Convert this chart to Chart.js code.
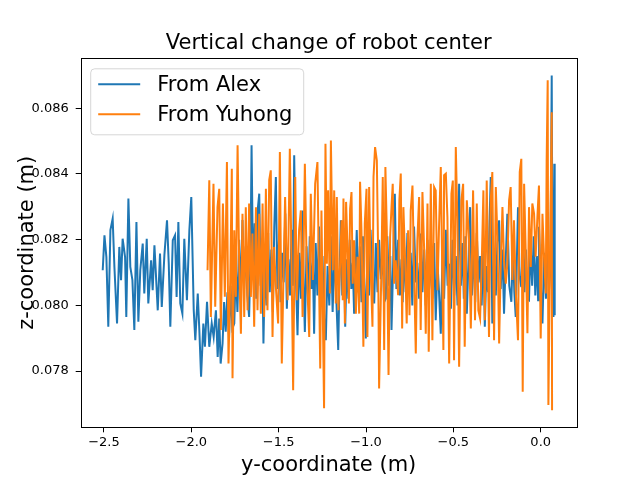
<!DOCTYPE html>
<html>
<head>
<meta charset="utf-8">
<script src="https://cdn.jsdelivr.net/npm/chart.js@4.4.1/dist/chart.umd.min.js"></script>
<style>
  body { margin: 0; background: #fff; }
  #wrap { width: 640px; height: 480px; }
</style>
</head>
<body>
<div id="wrap"><canvas id="robotChart" width="640" height="480"></canvas></div>
<script>
// Chart title and series labels
const chartTitle = 'Vertical change of robot center';
const seriesLabels = ['From Alex', 'From Yuhong'];

// Tick values
const xTickValues = [-2.5, -2.0, -1.5, -1.0, -0.5, 0.0];
const yTickValues = [0.078, 0.080, 0.082, 0.084, 0.086];

// [y-coordinate, z-coordinate] in metres
const alexPoints = [
  [-2.507,0.08107],[-2.497,0.08213],[-2.486,0.08147],[-2.475,0.07935],[-2.463,0.08229],[-2.450,0.08264],[-2.440,0.08117],[-2.425,0.07945],
  [-2.412,0.08178],[-2.402,0.08077],[-2.393,0.08203],[-2.379,0.08147],[-2.372,0.07965],[-2.360,0.08325],[-2.349,0.08117],[-2.337,0.08077],
  [-2.326,0.07925],[-2.314,0.08254],[-2.303,0.07950],[-2.292,0.08107],[-2.278,0.08188],[-2.269,0.08036],[-2.255,0.08203],[-2.246,0.08006],
  [-2.230,0.08137],[-2.221,0.08046],[-2.211,0.08183],[-2.192,0.07985],[-2.179,0.08158],[-2.169,0.07995],[-2.154,0.08153],[-2.139,0.08259],
  [-2.129,0.08127],[-2.120,0.07935],[-2.106,0.08198],[-2.093,0.08213],[-2.084,0.08026],[-2.074,0.08254],[-2.063,0.08006],[-2.051,0.07975],
  [-2.040,0.08203],[-2.025,0.08016],[-2.011,0.08229],[-2.000,0.08330],[-1.986,0.07985],[-1.977,0.07894],[-1.963,0.08036],[-1.954,0.07925],
  [-1.944,0.07783],[-1.931,0.07945],[-1.922,0.07874],[-1.910,0.08011],[-1.897,0.07874],[-1.883,0.07945],[-1.872,0.07904],[-1.859,0.07985],
  [-1.849,0.07843],[-1.840,0.07960],[-1.832,0.07823],[-1.821,0.07884],[-1.812,0.08010],[-1.803,0.07920],[-1.793,0.08040],[-1.784,0.07900],
  [-1.775,0.08060],[-1.765,0.07930],[-1.754,0.07945],[-1.745,0.08120],[-1.736,0.07980],[-1.726,0.08200],[-1.717,0.08020],[-1.707,0.08260],
  [-1.698,0.08050],[-1.688,0.08180],[-1.679,0.08030],[-1.669,0.07965],[-1.661,0.08150],[-1.655,0.08487],[-1.646,0.08080],[-1.637,0.08250],
  [-1.628,0.08020],[-1.620,0.08290],[-1.611,0.08340],[-1.603,0.08060],[-1.595,0.08190],[-1.587,0.07884],[-1.578,0.08140],[-1.569,0.08000],
  [-1.560,0.08220],[-1.551,0.08040],[-1.542,0.08170],[-1.533,0.07980],[-1.525,0.08240],[-1.516,0.08391],[-1.507,0.08050],[-1.498,0.08200],
  [-1.489,0.08010],[-1.480,0.08160],[-1.471,0.08070],[-1.462,0.08280],[-1.453,0.07990],[-1.444,0.08140],[-1.435,0.08030],[-1.426,0.08230],
  [-1.418,0.08060],[-1.411,0.08457],[-1.401,0.08080],[-1.392,0.07909],[-1.382,0.08160],[-1.372,0.08020],[-1.363,0.08289],[-1.356,0.08040],
  [-1.350,0.07919],[-1.340,0.08180],[-1.331,0.08010],[-1.322,0.08210],[-1.313,0.08050],[-1.304,0.08130],[-1.297,0.07914],[-1.288,0.08190],
  [-1.278,0.08030],[-1.269,0.08240],[-1.259,0.08000],[-1.249,0.08150],[-1.239,0.07960],[-1.230,0.07894],[-1.220,0.08120],[-1.210,0.08000],
  [-1.201,0.08210],[-1.191,0.07980],[-1.181,0.08160],[-1.170,0.08020],[-1.159,0.07864],[-1.151,0.08100],[-1.144,0.08259],[-1.136,0.08030],
  [-1.127,0.08170],[-1.119,0.07935],[-1.110,0.08140],[-1.101,0.08020],[-1.093,0.08200],[-1.084,0.08050],[-1.076,0.08130],[-1.068,0.07975],
  [-1.060,0.08100],[-1.053,0.08229],[-1.044,0.08040],[-1.035,0.08180],[-1.026,0.08010],[-1.018,0.08210],[-1.009,0.08060],[-1.001,0.07899],
  [-0.992,0.08150],[-0.983,0.08030],[-0.974,0.08230],[-0.963,0.08070],[-0.953,0.08006],[-0.944,0.08190],[-0.934,0.08040],[-0.925,0.08200],
  [-0.915,0.08080],[-0.905,0.08160],[-0.896,0.08010],[-0.887,0.08021],[-0.878,0.08210],[-0.869,0.08060],[-0.861,0.08150],[-0.854,0.07925],
  [-0.845,0.08120],[-0.835,0.08340],[-0.826,0.08050],[-0.816,0.08200],[-0.806,0.08030],[-0.797,0.08140],[-0.790,0.08010],[-0.782,0.08178],
  [-0.773,0.08040],[-0.763,0.08220],[-0.754,0.08060],[-0.744,0.08160],[-0.735,0.08000],[-0.725,0.08240],[-0.715,0.08070],[-0.706,0.08130],
  [-0.696,0.08020],[-0.686,0.08219],[-0.677,0.08040],[-0.667,0.08170],[-0.658,0.08000],[-0.648,0.08200],[-0.639,0.08050],[-0.629,0.08140],
  [-0.620,0.08020],[-0.610,0.08190],[-0.601,0.07955],[-0.591,0.08130],[-0.582,0.08040],[-0.572,0.07914],[-0.562,0.08160],[-0.553,0.08020],
  [-0.543,0.08230],[-0.533,0.08060],[-0.524,0.08127],[-0.514,0.07990],[-0.505,0.08200],[-0.495,0.08030],[-0.486,0.08150],[-0.476,0.08000],
  [-0.467,0.08370],[-0.457,0.08060],[-0.448,0.08190],[-0.440,0.08020],[-0.431,0.08210],[-0.423,0.07975],[-0.413,0.08140],[-0.404,0.08299],
  [-0.394,0.08030],[-0.385,0.08180],[-0.375,0.08010],[-0.366,0.08220],[-0.356,0.08070],[-0.347,0.08150],[-0.338,0.08000],[-0.328,0.08190],
  [-0.320,0.07935],[-0.311,0.08120],[-0.302,0.08040],[-0.294,0.08230],[-0.286,0.08391],[-0.277,0.07945],[-0.267,0.08160],[-0.257,0.08030],
  [-0.248,0.08190],[-0.238,0.08259],[-0.229,0.08050],[-0.219,0.08170],[-0.210,0.07975],[-0.200,0.08140],[-0.191,0.08279],[-0.180,0.08060],
  [-0.168,0.08011],[-0.159,0.08180],[-0.151,0.08040],[-0.143,0.07965],[-0.136,0.08150],[-0.130,0.08299],[-0.121,0.08090],[-0.111,0.08056],
  [-0.102,0.08200],[-0.093,0.08040],[-0.085,0.08170],[-0.076,0.08020],[-0.067,0.08016],[-0.058,0.08190],[-0.049,0.08060],[-0.040,0.08210],
  [-0.031,0.08030],[-0.022,0.08150],[-0.015,0.08016],[-0.010,0.08239],[0.000,0.08070],[0.010,0.07945],[0.020,0.08160],[0.030,0.08020],
  [0.040,0.08200],[0.048,0.08050],[0.056,0.08120],[0.063,0.08700],[0.068,0.08020],[0.073,0.07965],[0.078,0.08431],[0.080,0.07970]
];

const yuhongPoints = [
  [-1.907,0.08107],[-1.897,0.08381],[-1.888,0.07965],[-1.873,0.08370],[-1.863,0.07996],[-1.850,0.08299],[-1.840,0.08355],[-1.831,0.07925],
  [-1.819,0.08310],[-1.808,0.08026],[-1.796,0.08436],[-1.787,0.07823],[-1.777,0.08077],[-1.768,0.08416],[-1.764,0.07778],[-1.754,0.08229],
  [-1.745,0.08026],[-1.735,0.08487],[-1.726,0.08127],[-1.716,0.07914],[-1.707,0.08279],[-1.697,0.07965],[-1.688,0.08299],[-1.678,0.07985],
  [-1.669,0.08310],[-1.659,0.08026],[-1.650,0.08219],[-1.640,0.07935],[-1.630,0.08299],[-1.621,0.07985],[-1.611,0.08279],[-1.602,0.07975],
  [-1.592,0.08310],[-1.583,0.07965],[-1.573,0.08355],[-1.564,0.07985],[-1.554,0.08381],[-1.545,0.08411],[-1.535,0.07904],[-1.526,0.08178],
  [-1.516,0.08056],[-1.503,0.07945],[-1.493,0.08467],[-1.482,0.07823],[-1.472,0.08097],[-1.463,0.08330],[-1.449,0.08016],[-1.436,0.08477],
  [-1.426,0.08127],[-1.417,0.07742],[-1.405,0.08391],[-1.396,0.08016],[-1.383,0.08229],[-1.373,0.08289],[-1.363,0.07965],[-1.350,0.08431],
  [-1.339,0.08107],[-1.325,0.07904],[-1.316,0.08340],[-1.304,0.08077],[-1.291,0.08370],[-1.278,0.08436],[-1.262,0.07808],[-1.255,0.08289],
  [-1.240,0.07687],[-1.232,0.08492],[-1.224,0.08127],[-1.217,0.08350],[-1.207,0.08036],[-1.201,0.08502],[-1.190,0.08107],[-1.182,0.08350],
  [-1.173,0.08006],[-1.167,0.08330],[-1.158,0.07985],[-1.148,0.08127],[-1.140,0.08259],[-1.133,0.08016],[-1.129,0.08325],[-1.121,0.07945],
  [-1.114,0.08315],[-1.106,0.08178],[-1.098,0.08006],[-1.091,0.08294],[-1.083,0.08345],[-1.076,0.08066],[-1.068,0.08198],[-1.058,0.07975],
  [-1.049,0.08148],[-1.039,0.07975],[-1.034,0.08376],[-1.026,0.08229],[-1.015,0.07874],[-1.007,0.08249],[-0.997,0.08355],[-0.992,0.07904],
  [-0.982,0.08360],[-0.973,0.08107],[-0.963,0.07935],[-0.957,0.08391],[-0.948,0.08482],[-0.938,0.08441],[-0.931,0.08178],[-0.925,0.07747],
  [-0.912,0.08107],[-0.904,0.08391],[-0.896,0.07864],[-0.889,0.08421],[-0.881,0.08229],[-0.871,0.07788],[-0.862,0.08208],[-0.854,0.08299],
  [-0.847,0.08370],[-0.839,0.08066],[-0.830,0.08137],[-0.816,0.08031],[-0.809,0.08320],[-0.801,0.08401],[-0.793,0.07930],[-0.786,0.08299],
  [-0.776,0.08137],[-0.767,0.07945],[-0.759,0.08229],[-0.751,0.07970],[-0.744,0.08289],[-0.734,0.08365],[-0.725,0.08107],[-0.715,0.07854],
  [-0.706,0.08198],[-0.696,0.08330],[-0.687,0.07925],[-0.677,0.08345],[-0.667,0.08168],[-0.658,0.07914],[-0.648,0.08310],[-0.641,0.07859],
  [-0.629,0.08370],[-0.620,0.07894],[-0.610,0.08360],[-0.601,0.08350],[-0.591,0.08046],[-0.582,0.08239],[-0.572,0.08421],[-0.557,0.07864],
  [-0.553,0.08396],[-0.543,0.08401],[-0.534,0.08269],[-0.524,0.07823],[-0.511,0.08340],[-0.503,0.08380],[-0.496,0.07833],[-0.486,0.08482],
  [-0.477,0.08259],[-0.467,0.07813],[-0.454,0.08320],[-0.444,0.08370],[-0.435,0.07874],[-0.423,0.08320],[-0.410,0.08198],[-0.400,0.07930],
  [-0.387,0.08350],[-0.376,0.07955],[-0.366,0.08310],[-0.357,0.07985],[-0.347,0.07960],[-0.338,0.08117],[-0.328,0.08350],[-0.320,0.07955],
  [-0.309,0.08380],[-0.296,0.07904],[-0.286,0.08320],[-0.277,0.08406],[-0.267,0.07894],[-0.257,0.08360],[-0.248,0.08208],[-0.238,0.07884],
  [-0.229,0.08117],[-0.219,0.08299],[-0.210,0.08137],[-0.200,0.08066],[-0.191,0.08127],[-0.181,0.08320],[-0.172,0.08360],[-0.162,0.08077],
  [-0.153,0.08259],[-0.143,0.08046],[-0.130,0.07894],[-0.120,0.08406],[-0.111,0.08446],[-0.103,0.07737],[-0.095,0.08370],[-0.086,0.08168],
  [-0.076,0.07915],[-0.067,0.08299],[-0.057,0.08117],[-0.048,0.08310],[-0.038,0.08279],[-0.029,0.08148],[-0.019,0.08269],[-0.010,0.08365],
  [0.000,0.07899],[0.010,0.08279],[0.019,0.08148],[0.029,0.08036],[0.034,0.08441],[0.040,0.08685],[0.044,0.07697],[0.053,0.08137],
  [0.063,0.08588],[0.065,0.07681]
];

const FONT = "'DejaVu Sans', sans-serif";

function toXY(points) {
    return points.map(p => ({ x: p[0], y: p[1] }));
}

function formatX(v) {
    const s = Math.abs(v).toFixed(1);
    return v < 0 ? '\u2212' + s : s;
}

// Box around the plot area, title centred over the axes, and a
// matplotlib-style legend in the upper left
const framePlugin = {
    id: 'frame',
    afterDatasetsDraw(chart) {
        const { ctx, chartArea: a } = chart;
        ctx.save();
        ctx.strokeStyle = '#000';
        ctx.lineWidth = 1;
        ctx.strokeRect(Math.round(a.left) + 0.5, Math.round(a.top) + 0.5,
                       Math.round(a.right - a.left), Math.round(a.bottom - a.top));

        // title
        ctx.fillStyle = '#000';
        ctx.font = '21px ' + FONT;
        ctx.textAlign = 'center';
        ctx.textBaseline = 'alphabetic';
        ctx.fillText(chartTitle, (a.left + a.right) / 2, a.top - 9.5);

        // legend
        const lx = a.left + 10, ly = a.top + 10.5, lw = 213, lh = 66, r = 4;
        ctx.beginPath();
        ctx.moveTo(lx + r, ly);
        ctx.arcTo(lx + lw, ly, lx + lw, ly + lh, r);
        ctx.arcTo(lx + lw, ly + lh, lx, ly + lh, r);
        ctx.arcTo(lx, ly + lh, lx, ly, r);
        ctx.arcTo(lx, ly, lx + lw, ly, r);
        ctx.closePath();
        ctx.fillStyle = 'rgba(255,255,255,0.8)';
        ctx.fill();
        ctx.strokeStyle = 'rgba(204,204,204,0.8)';
        ctx.stroke();

        ctx.font = '21px ' + FONT;
        ctx.textBaseline = 'middle';
        ctx.textAlign = 'left';
        chart.data.datasets.forEach((ds, i) => {
            const rowY = ly + 15.5 + i * 30;
            ctx.strokeStyle = ds.borderColor;
            ctx.lineWidth = 2;
            ctx.beginPath();
            ctx.moveTo(lx + 7.5, rowY);
            ctx.lineTo(lx + 49.5, rowY);
            ctx.stroke();
            ctx.fillStyle = '#000';
            ctx.fillText(ds.label, lx + 66.5, rowY + 1);
        });
        ctx.restore();
    }
};

const ctx = document.getElementById('robotChart').getContext('2d');
new Chart(ctx, {
    type: 'line',
    data: {
        datasets: [
            {
                label: seriesLabels[0],
                data: toXY(alexPoints),
                borderColor: '#1f77b4',
                borderWidth: 2,
                pointRadius: 0,
                fill: false,
                tension: 0,
                order: 1
            },
            {
                label: seriesLabels[1],
                data: toXY(yuhongPoints),
                borderColor: '#ff7f0e',
                borderWidth: 2,
                pointRadius: 0,
                fill: false,
                tension: 0,
                order: 0
            }
        ]
    },
    options: {
        responsive: false,
        animation: false,
        devicePixelRatio: 1,
        layout: { padding: { left: 0, right: 63.3, top: 58.3, bottom: 0 } },
        plugins: {
            legend: { display: false },
            tooltip: { enabled: false },
            title: { display: false }
        },
        scales: {
            x: {
                type: 'linear',
                min: -2.633,
                max: 0.206,
                afterFit(scale) { scale.height = 52.7; },
                afterBuildTicks(scale) { scale.ticks = xTickValues.map(v => ({ value: v })); },
                grid: { drawOnChartArea: false, drawTicks: true, tickLength: 5, color: '#000' },
                border: { display: false },
                ticks: {
                    color: '#000',
                    font: { family: FONT, size: 13 },
                    padding: 3,
                    maxRotation: 0,
                    autoSkip: false,
                    callback: v => formatX(v)
                },
                title: {
                    display: true,
                    text: 'y-coordinate (m)',
                    color: '#000',
                    font: { family: FONT, size: 21 },
                    padding: { top: 0, bottom: 2 }
                }
            },
            y: {
                type: 'linear',
                min: 0.07629,
                max: 0.08752,
                afterFit(scale) { scale.width = 80.7; },
                afterBuildTicks(scale) { scale.ticks = yTickValues.map(v => ({ value: v })); },
                grid: { drawOnChartArea: false, drawTicks: true, tickLength: 5, color: '#000' },
                border: { display: false },
                ticks: {
                    color: '#000',
                    font: { family: FONT, size: 13 },
                    padding: 7,
                    autoSkip: false,
                    callback: v => v.toFixed(3)
                },
                title: {
                    display: true,
                    text: 'z-coordinate (m)',
                    color: '#000',
                    font: { family: FONT, size: 21 },
                    padding: { top: 15, bottom: 0 }
                }
            }
        }
    },
    plugins: [framePlugin]
});
</script>
</body>
</html>
